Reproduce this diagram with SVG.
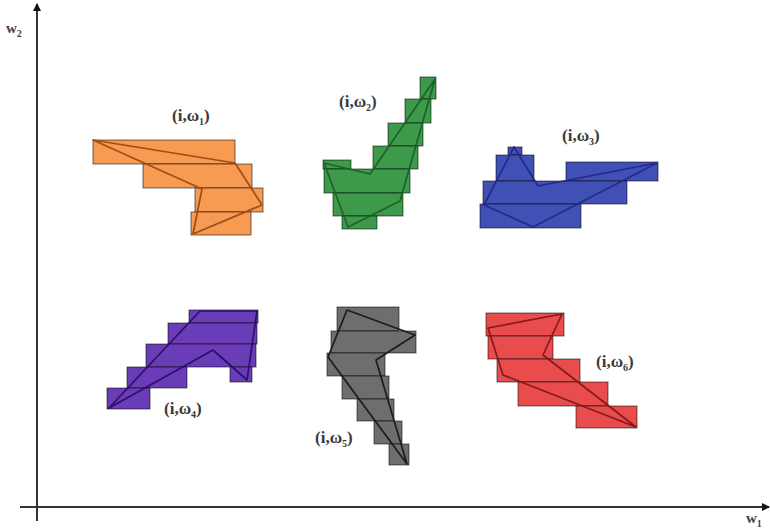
<svg xmlns="http://www.w3.org/2000/svg" width="770" height="530" viewBox="0 0 770 530">
<style>
.r{stroke:#000;stroke-opacity:0.55;stroke-width:1}
.p{fill:none;stroke-width:1.7;stroke-linejoin:round}
.lbl{font-family:"Liberation Serif",serif;font-size:17px;font-weight:bold;fill:#3a3a3a}
.sub{font-size:10px}
.ax{stroke:#333;stroke-width:2;fill:none}
.axl{font-family:"Liberation Serif",serif;font-size:15px;font-weight:bold;fill:#444}
</style>
<defs>
<marker id="ah" markerWidth="8" markerHeight="8" refX="7" refY="4" orient="auto" markerUnits="userSpaceOnUse">
<path d="M0,0 L8,4 L0,8 Z" fill="#111"/>
</marker>
</defs>
<rect width="770" height="530" fill="#fff"/>
<g id="axes">
<line class="ax" x1="37" y1="521" x2="37" y2="4" marker-end="url(#ah)"/>
<line class="ax" x1="20" y1="507" x2="769" y2="507" marker-end="url(#ah)"/>
<text class="axl" x="6" y="33">w<tspan class="sub" dy="4">2</tspan></text>
<text class="axl" x="746" y="523">w<tspan class="sub" dy="4">1</tspan></text>
</g>
<g id="omega1">
<g fill="#F79A52">
<rect class="r" x="93" y="140" width="142" height="24"/>
<rect class="r" x="143" y="164" width="109" height="24"/>
<rect class="r" x="195" y="188" width="68" height="24"/>
<rect class="r" x="191" y="212" width="60" height="23"/>
</g>
<polygon class="p" stroke="#9E4E18" points="93,140 202,189 193,234 262,205 235,163"/>
<text class="lbl" x="172" y="121">(i,ω<tspan class="sub" dy="4">1</tspan><tspan dy="-4">)</tspan></text>
</g>
<g id="omega2">
<g fill="#3C9A4A">
<rect class="r" x="420" y="77" width="16" height="22"/>
<rect class="r" x="405" y="99" width="26" height="24"/>
<rect class="r" x="388" y="123" width="35" height="23"/>
<rect class="r" x="373" y="146" width="45" height="23"/>
<rect class="r" x="323" y="160" width="28" height="9"/>
<rect class="r" x="324" y="169" width="86" height="24"/>
<rect class="r" x="333" y="193" width="70" height="23"/>
<rect class="r" x="342" y="216" width="35" height="13"/>
</g>
<polygon class="p" stroke="#1D6328" points="324,163 370,174 435,79 400,201 348,227"/>
<text class="lbl" x="339" y="107">(i,ω<tspan class="sub" dy="4">2</tspan><tspan dy="-4">)</tspan></text>
</g>
<g id="omega3">
<g fill="#4150B5">
<rect class="r" x="508" y="147" width="14" height="8"/>
<rect class="r" x="496" y="155" width="38" height="26"/>
<rect class="r" x="566" y="162" width="92" height="19"/>
<rect class="r" x="483" y="181" width="144" height="23"/>
<rect class="r" x="480" y="204" width="101" height="24"/>
</g>
<polygon class="p" stroke="#25298C" points="484,205 514,147 538,186 657,163 533,227"/>
<text class="lbl" x="562" y="141">(i,ω<tspan class="sub" dy="4">3</tspan><tspan dy="-4">)</tspan></text>
</g>
<g id="omega4">
<g fill="#6B3CB8">
<rect class="r" x="189" y="310" width="69" height="13"/>
<rect class="r" x="168" y="323" width="89" height="21"/>
<rect class="r" x="146" y="344" width="110" height="23"/>
<rect class="r" x="127" y="367" width="60" height="21"/>
<rect class="r" x="230" y="367" width="22" height="15"/>
<rect class="r" x="107" y="388" width="43" height="21"/>
</g>
<polygon class="p" stroke="#2A1068" points="109,408 200,311 257,311 247,380 213,350"/>
<text class="lbl" x="164" y="414">(i,ω<tspan class="sub" dy="4">4</tspan><tspan dy="-4">)</tspan></text>
</g>
<g id="omega5">
<g fill="#6E6E6E">
<rect class="r" x="337" y="307" width="62" height="24"/>
<rect class="r" x="331" y="331" width="85" height="22"/>
<rect class="r" x="327" y="353" width="58" height="23"/>
<rect class="r" x="342" y="376" width="47" height="23"/>
<rect class="r" x="357" y="399" width="37" height="22"/>
<rect class="r" x="374" y="421" width="28" height="23"/>
<rect class="r" x="389" y="444" width="20" height="21"/>
</g>
<polygon class="p" stroke="#1c1c1c" points="347,310 415,335 376,360 407,464 328,357"/>
<text class="lbl" x="315" y="443">(i,ω<tspan class="sub" dy="4">5</tspan><tspan dy="-4">)</tspan></text>
</g>
<g id="omega6">
<g fill="#E84C4C">
<rect class="r" x="486" y="313" width="78" height="23"/>
<rect class="r" x="488" y="336" width="65" height="23"/>
<rect class="r" x="497" y="359" width="83" height="23"/>
<rect class="r" x="518" y="382" width="90" height="24"/>
<rect class="r" x="576" y="406" width="61" height="22"/>
</g>
<polygon class="p" stroke="#861A1A" points="488,328 562,314 543,355 636,427 503,375"/>
<text class="lbl" x="596" y="367">(i,ω<tspan class="sub" dy="4">6</tspan><tspan dy="-4">)</tspan></text>
</g>
</svg>
